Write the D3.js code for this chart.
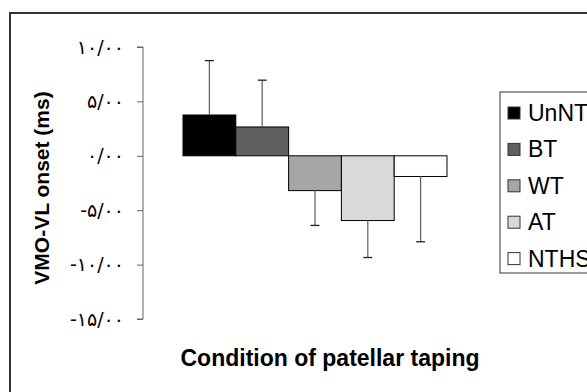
<!DOCTYPE html>
<html>
<head>
<meta charset="utf-8">
<script src="https://cdn.jsdelivr.net/npm/d3@7"></script>
<style>
  body { margin: 0; background: #fff; }
  svg { display: block; font-family: "Liberation Sans", Arial, sans-serif; }
</style>
</head>
<body>
<div id="chart"></div>
<script>
// data
let series = ["UnNT", "BT", "WT", "AT", "NTHS"];
let means = [3.75, 2.65, -3.2, -5.95, -1.9];
let errEnds = [8.75, 6.95, -6.4, -9.35, -7.9];
let tickValues = [10, 5, 0, -5, -10, -15];
let tickLabels = ["۱۰/۰۰", "۵/۰۰", "۰/۰۰", "-۵/۰۰", "-۱۰/۰۰", "-۱۵/۰۰"];
let fills = ["#000000", "#5f5f5f", "#a6a6a6", "#d9d9d9", "#ffffff"];

let width = 587,
    height = 392;

let svg = d3.select("#chart")
    .append("svg")
    .attr("width", width)
    .attr("height", height);

// outer frame, cut off at the right and bottom
svg.append("rect")
    .attr("x", 10).attr("y", 13)
    .attr("width", 600).attr("height", 400)
    .attr("fill", "none")
    .attr("stroke", "#333")
    .attr("stroke-width", 2);

let y = d3.scaleLinear().domain([-15, 10]).range([319, 47]);
let x = d3.scaleBand().domain(series).range([183, 447]).padding(0);

// y axis
let yAxis = d3.axisLeft(y)
    .tickValues(tickValues)
    .tickSize(6)
    .tickPadding(13)
    .tickFormat((d, i) => tickLabels[i]);

let gy = svg.append("g")
    .attr("transform", "translate(143,0)")
    .call(yAxis);
gy.select(".domain").attr("stroke", "#666").attr("d", "M-6," + y(10) + "H0V" + y(-15) + "H-6");
gy.selectAll(".tick line").attr("stroke", "#666");
gy.selectAll(".tick text")
    .attr("fill", "#000")
    .attr("font-size", 19)
    .attr("font-family", "'DejaVu Sans', 'Liberation Sans', sans-serif");

// bars
svg.selectAll(".bar")
    .data(series)
    .enter().append("rect")
    .attr("class", "bar")
    .attr("x", d => x(d))
    .attr("width", x.bandwidth())
    .attr("y", (d, i) => y(Math.max(0, means[i])))
    .attr("height", (d, i) => Math.abs(y(means[i]) - y(0)))
    .attr("fill", (d, i) => fills[i])
    .attr("stroke", "#000")
    .attr("stroke-width", 1);

// error bars
let eb = svg.selectAll(".err")
    .data(series)
    .enter().append("g")
    .attr("class", "err");
eb.append("line")
    .attr("x1", d => x(d) + x.bandwidth() / 2)
    .attr("x2", d => x(d) + x.bandwidth() / 2)
    .attr("y1", (d, i) => y(means[i]))
    .attr("y2", (d, i) => y(errEnds[i]))
    .attr("stroke", "#666")
    .attr("stroke-width", 1.3);
eb.append("line")
    .attr("x1", d => x(d) + x.bandwidth() / 2 - 4.5)
    .attr("x2", d => x(d) + x.bandwidth() / 2 + 4.5)
    .attr("y1", (d, i) => y(errEnds[i]))
    .attr("y2", (d, i) => y(errEnds[i]))
    .attr("stroke", "#222")
    .attr("stroke-width", 1.3);

// axis titles
svg.append("text")
    .attr("transform", "translate(49," + (y(-2.5) + 5) + ") rotate(-90)")
    .attr("text-anchor", "middle")
    .attr("font-size", 21)
    .attr("font-weight", "bold")
    .text("VMO-VL onset (ms)");

svg.append("text")
    .attr("x", 330)
    .attr("y", 366)
    .attr("text-anchor", "middle")
    .attr("font-size", 23)
    .attr("font-weight", "bold")
    .text("Condition of patellar taping");

// legend
let legend = svg.append("g").attr("transform", "translate(500,92)");
legend.append("rect")
    .attr("width", 120).attr("height", 181)
    .attr("fill", "#fff")
    .attr("stroke", "#555")
    .attr("stroke-width", 1.2);
let items = legend.selectAll(".item")
    .data(series)
    .enter().append("g")
    .attr("class", "item")
    .attr("transform", (d, i) => "translate(0," + (21 + i * 36.4) + ")");
items.append("rect")
    .attr("x", 8).attr("y", -6)
    .attr("width", 12).attr("height", 12)
    .attr("fill", (d, i) => fills[i])
    .attr("stroke", "#333");
items.append("text")
    .attr("x", 28)
    .attr("y", 8)
    .attr("font-size", 23)
    .text(d => d);
</script>
</body>
</html>
